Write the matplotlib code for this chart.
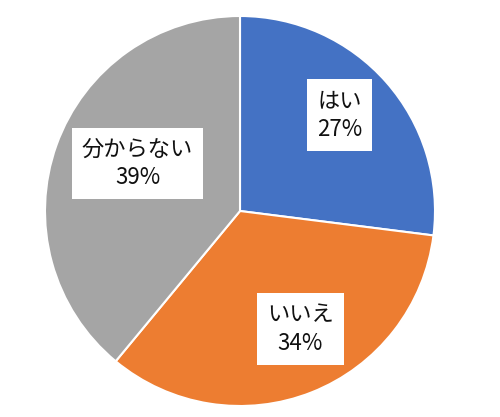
import numpy as np
import matplotlib
import matplotlib.pyplot as plt

matplotlib.use('Agg')
plt.rcParams['font.family'] = ['Noto Sans CJK JP', 'DejaVu Sans']

# data
categories = ['はい', 'いいえ', '分からない']
shares = [27, 34, 39]
colors = ['#4472C4', '#ED7D31', '#A5A5A5']

# label placement: (distance as fraction of radius, angle in degrees)
label_pos = [(0.71, 44), (0.68, -63), (0.58, 155)]

fig = plt.figure(figsize=(5.0, 4.17), dpi=100)
ax = fig.add_axes([0, 0, 1, 1])

cx, cy, r = 240, 206, 195
ax.pie(shares, colors=colors, startangle=90, counterclock=False,
       center=(cx, cy), radius=r, frame=True,
       wedgeprops=dict(edgecolor='white', linewidth=1.5))
ax.set_xlim(0, 500)
ax.set_ylim(0, 417)
ax.set_aspect('equal')
ax.axis('off')

for name, val, (d, ang) in zip(categories, shares, label_pos):
    x = cx + d * r * np.cos(np.radians(ang))
    y = cy + d * r * np.sin(np.radians(ang))
    ax.text(x, y, f'{name}\n{val}%', ha='center', va='center',
            fontsize=16, linespacing=1.3, color='#111111',
            bbox=dict(boxstyle='square,pad=0.45', fc='white', ec='none'))

fig.savefig('out.png', dpi=100)
